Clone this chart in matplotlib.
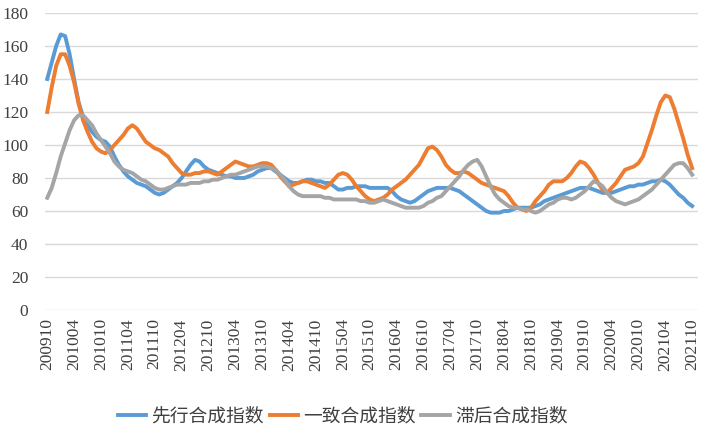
import matplotlib
matplotlib.use('Agg')
import matplotlib.pyplot as plt
from matplotlib import font_manager
import pandas as pd

# months 2009-10 .. 2021-10
months = [p.strftime('%Y%m') for p in pd.period_range('2009-10', '2021-10', freq='M')]

leading = [140, 150, 160, 167, 166, 155, 140, 126, 117, 112, 108, 105, 103, 102, 99, 93, 88, 84, 81, 79,
           77, 76, 75, 73, 71, 70, 71, 73, 75, 77, 80, 84, 88, 91, 90, 87, 85, 84, 83, 82,
           81, 81, 80, 80, 80, 81, 82, 84, 85, 86, 86, 84, 82, 80, 78, 77, 77, 78, 79, 79,
           78, 78, 77, 77, 75, 73, 73, 74, 74, 75, 75, 75, 74, 74, 74, 74, 74, 72, 69, 67,
           66, 65, 66, 68, 70, 72, 73, 74, 74, 74, 74, 73, 72, 70, 68, 66, 64, 62, 60, 59,
           59, 59, 60, 60, 61, 62, 62, 62, 62, 63, 64, 66, 67, 68, 69, 70, 71, 72, 73, 74,
           74, 74, 73, 72, 71, 71, 71, 72, 73, 74, 75, 75, 76, 76, 77, 78, 78, 79, 78, 76,
           73, 70, 68, 65, 63]
coincident = [120, 135, 148, 155, 155, 148, 138, 125, 115, 108, 102, 98, 96, 95, 97, 100, 103, 106, 110, 112,
              110, 106, 102, 100, 98, 97, 95, 93, 89, 86, 83, 82, 82, 83, 83, 84, 84, 83, 82, 84,
              86, 88, 90, 89, 88, 87, 87, 88, 89, 89, 88, 85, 81, 78, 75, 76, 77, 78, 78, 77,
              76, 75, 74, 76, 79, 82, 83, 82, 79, 75, 72, 69, 67, 66, 67, 68, 70, 73, 75, 77,
              79, 82, 85, 88, 93, 98, 99, 97, 93, 88, 85, 83, 83, 84, 83, 81, 79, 77, 76, 75,
              74, 73, 72, 69, 65, 62, 61, 60, 62, 66, 69, 72, 76, 78, 78, 78, 80, 83, 87, 90,
              89, 86, 82, 77, 73, 71, 74, 77, 81, 85, 86, 87, 89, 93, 101, 109, 118, 126, 130, 129,
              122, 113, 104, 94, 86]
lagging = [68, 74, 83, 93, 101, 109, 115, 118, 118, 115, 112, 107, 103, 99, 95, 90, 87, 85, 84, 83,
           81, 79, 78, 76, 74, 73, 73, 74, 75, 76, 76, 76, 77, 77, 77, 78, 78, 79, 79, 80,
           81, 82, 82, 83, 84, 85, 86, 87, 87, 87, 86, 85, 82, 79, 75, 72, 70, 69, 69, 69,
           69, 69, 68, 68, 67, 67, 67, 67, 67, 67, 66, 66, 65, 65, 66, 67, 66, 65, 64, 63,
           62, 62, 62, 62, 63, 65, 66, 68, 69, 72, 75, 78, 81, 85, 88, 90, 91, 87, 81, 75,
           70, 67, 65, 63, 62, 62, 61, 61, 60, 59, 60, 62, 64, 65, 67, 68, 68, 67, 68, 70,
           72, 75, 78, 77, 75, 71, 68, 66, 65, 64, 65, 66, 67, 69, 71, 73, 76, 79, 82, 85,
           88, 89, 89, 86, 82]

assert len(leading) == len(coincident) == len(lagging) == len(months)

serif_names = [f.name for f in font_manager.fontManager.ttflist if 'Serif' in f.name]
tick_font = 'Liberation Serif' if 'Liberation Serif' in serif_names else 'DejaVu Serif'

x = list(range(len(months)))

fig = plt.figure(figsize=(7.11, 4.34), dpi=100)
ax = fig.add_axes([45 / 711, 1 - 310 / 434, 653 / 711, 297 / 434])

ax.plot(x, leading, color='#5B9BD5', linewidth=2.8, label='先行合成指数', solid_joinstyle='round')
ax.plot(x, coincident, color='#ED7D31', linewidth=2.8, label='一致合成指数', solid_joinstyle='round')
ax.plot(x, lagging, color='#A5A5A5', linewidth=2.8, label='滞后合成指数', solid_joinstyle='round')

ax.set_ylim(0, 180)
ax.set_yticks(range(0, 181, 20))
ax.set_xlim(-0.5, 145.3)
ax.set_xticks(x[::6])
ax.set_xticklabels(months[::6], rotation=90)

ax.tick_params(length=0, pad=6, labelsize=12.5, labelcolor='#404040', labelfontfamily=tick_font)
ax.tick_params(axis='y', pad=12)
ax.grid(axis='y', color='#D9D9D9', linewidth=1)
ax.set_axisbelow(True)
for s in ax.spines.values():
    s.set_visible(False)

fig.legend(loc='center', bbox_to_anchor=(0.482, 0.042), ncol=3, frameon=False,
           prop={'family': ['Noto Sans CJK SC', 'DejaVu Sans'], 'size': 13.5},
           handlelength=1.5, handletextpad=0.3, columnspacing=0.3, labelcolor='#404040')

fig.savefig('out.png', dpi=100)
